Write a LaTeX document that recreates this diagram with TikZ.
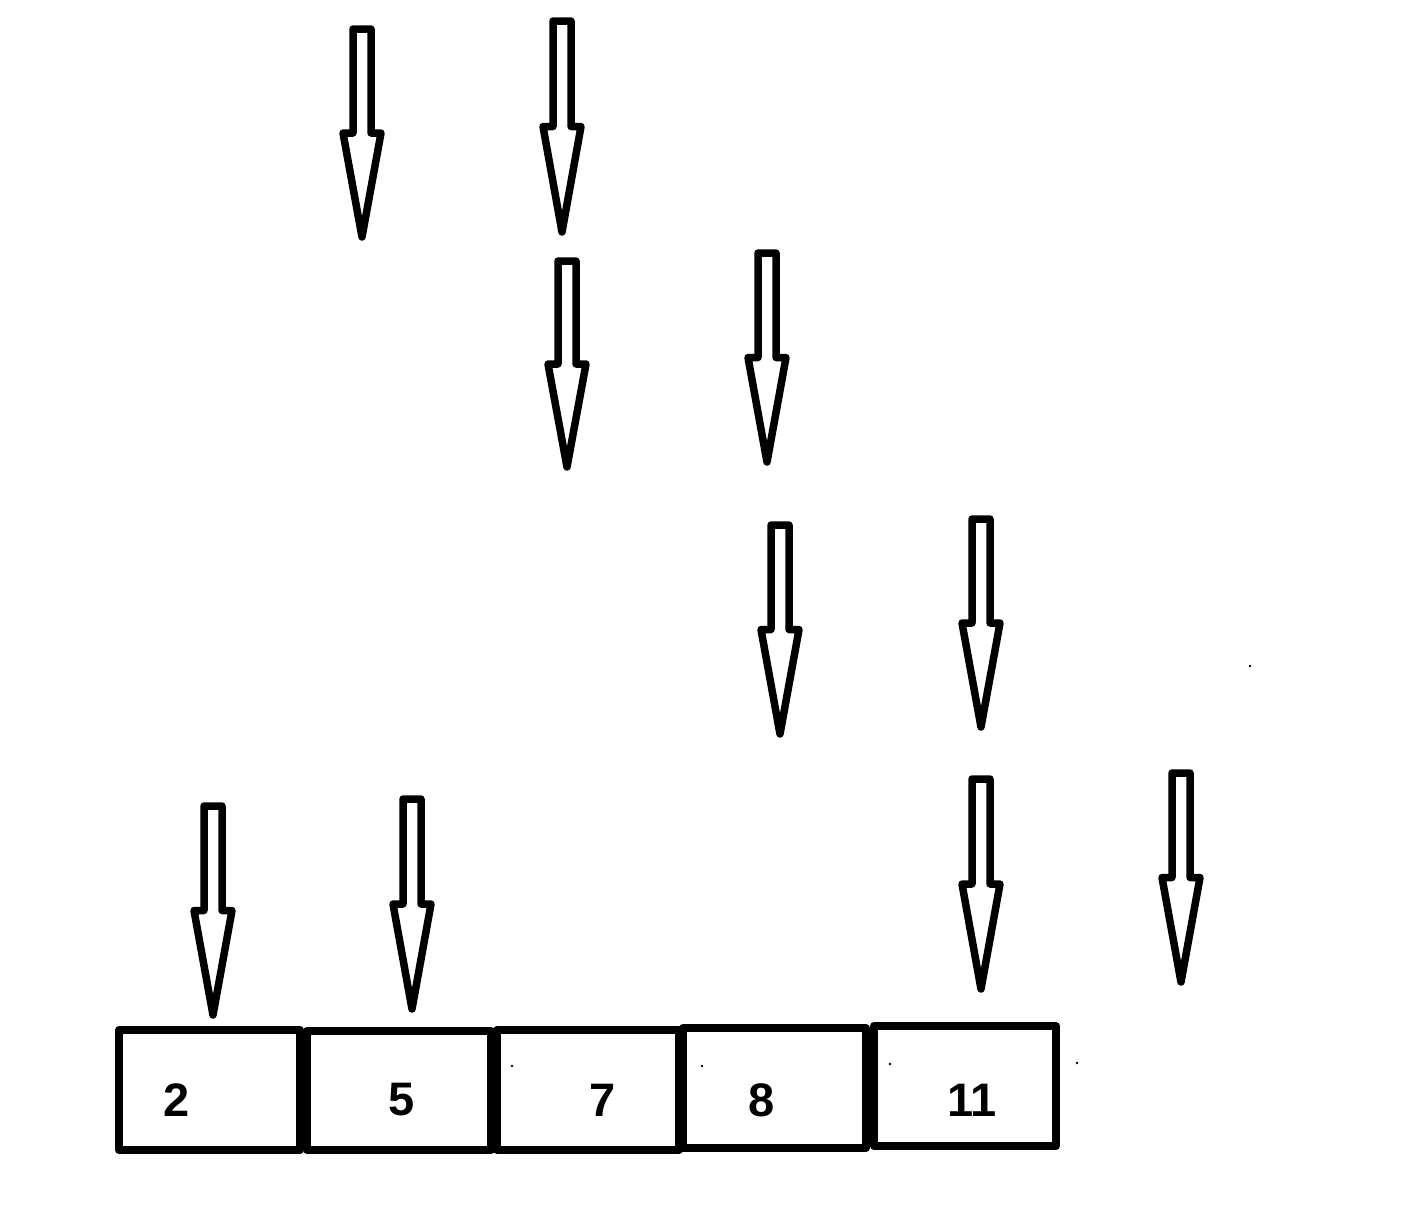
\documentclass[tikz,border=0pt]{standalone}
\usepackage{fontspec}
\setsansfont{Liberation Sans}

\tikzset{
  cell/.style={draw,line width=8pt,inner sep=0pt},
  num/.style={font=\sffamily\bfseries\fontsize{47}{47}\selectfont,inner sep=0pt}
}

\begin{document}
\begin{tikzpicture}[x=1pt,y=-1pt,line width=7.5pt,line join=round]
\fill[white] (0,0) rectangle (1417,1211);
\useasboundingbox (0,0) rectangle (1417,1211);

% hollow arrows: centre/top/tip
\foreach \c/\t/\b in {362/29/237,562/21/232,567/261/467,767/253/462,780/525/734,981/519/727,981/779/989,1181/773/982,213/806/1015,412/799/1009}{
  \draw ({\c-9},\t) -- ({\c+9},\t) -- ({\c+9},{(\t+\b)/2}) -- ({\c+19},{(\t+\b)/2})
    -- (\c,\b) -- ({\c-19},{(\t+\b)/2}) -- ({\c-9},{(\t+\b)/2}) -- cycle;
}

% the row of cells
\node[cell,minimum width=181pt,minimum height=120pt] (b2) at (209.5,1090) {};
\node[cell,minimum width=184pt,minimum height=119pt] (b5) at (399,1090.5) {};
\node[cell,minimum width=182pt,minimum height=120pt] (b7) at (588,1090) {};
\node[cell,minimum width=183pt,minimum height=120pt] (b8) at (774.5,1088) {};
\node[cell,minimum width=182pt,minimum height=120pt] (b11) at (965,1086) {};

\node[num] (n2) at (177,1100) {2};
\node[num] (n5) at (402,1100) {5};
\node[num] (n7) at (603,1100) {7};
\node[num] (n8) at (762,1100) {8};
\node[num] (n11) at (972,1100) {11};

% specks
\foreach \x/\y in {1250/666,512/1066,702/1066,890/1064,1077/1063}{\fill (\x,\y) circle (1.3);}

\end{tikzpicture}
\end{document}
